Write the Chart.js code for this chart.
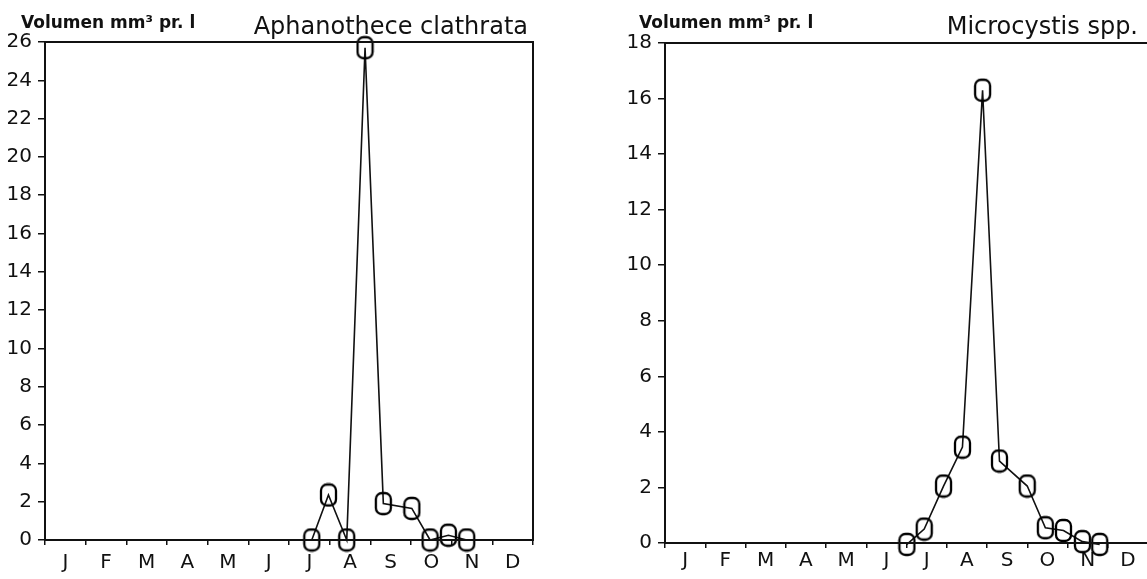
<!DOCTYPE html>
<html>
<head>
<meta charset="utf-8">
<script src="https://cdn.jsdelivr.net/npm/chart.js@4"></script>
<style>
  html, body { margin:0; padding:0; background:#fff; width:1147px; height:579px; overflow:hidden; }
  .box { position:absolute; top:0; height:579px; }
  .lbl { position:absolute; font-family:"DejaVu Sans", sans-serif; color:#111; white-space:nowrap; }
  .vol { font-size:17px; font-weight:bold; line-height:17px; top:14px; }
  .ttl { font-size:24px; line-height:24px; top:14px; }
</style>
</head>
<body>
<div class="box" style="left:0;width:573px;"><canvas id="c1"></canvas></div>
<div class="box" style="left:580px;width:580px;"><canvas id="c2"></canvas></div>
<div class="lbl vol" style="left:21px;">Volumen mm³ pr. l</div>
<div class="lbl ttl" style="right:619px;">Aphanothece clathrata</div>
<div class="lbl vol" style="left:639px;">Volumen mm³ pr. l</div>
<div class="lbl ttl" style="right:9px;">Microcystis spp.</div>
<script>
// ---- data ----
const monthLabels = ["J","F","M","A","M","J","J","A","S","O","N","D"];
// time positions in months from 1 January (0 = start of Jan, 12 = end of Dec)
const aphanoTime   = [6.56, 6.97, 7.42, 7.87, 8.32, 9.02, 9.47, 9.92, 10.37];
const aphanoVolume = [0, 2.35, 0, 25.7, 1.9, 1.65, 0, 0.25, 0];
const microTime    = [6.01, 6.44, 6.92, 7.39, 7.89, 8.31, 9.0, 9.45, 9.9, 10.37, 10.8];
const microVolume  = [-0.05, 0.5, 2.05, 3.45, 16.3, 2.95, 2.05, 0.55, 0.45, 0.05, -0.05];
const aphanoYTicks = [0,2,4,6,8,10,12,14,16,18,20,22,24,26];
const microYTicks  = [0,2,4,6,8,10,12,14,16,18];

// marker: rounded rectangle outline (like a plotted "0")
function makeMarker() {
  const c = document.createElement('canvas');
  c.width = 19; c.height = 25;
  const g = c.getContext('2d');
  g.strokeStyle = '#000'; g.lineWidth = 2.3;
  g.beginPath();
  g.roundRect(2, 2, 15, 21, 6);
  g.stroke();
  return c;
}
const marker = makeMarker();

const frame = {
  id: 'frame',
  afterDraw(chart) {
    const a = chart.chartArea, ctx = chart.ctx;
    ctx.save();
    ctx.strokeStyle = '#111'; ctx.lineWidth = 2;
    ctx.strokeRect(a.left, a.top, a.right - a.left, a.bottom - a.top);
    ctx.restore();
  }
};

function build(canvasId, times, values, yTicks, geo) {
  const pts = times.map((t, i) => ({x: t, y: values[i]}));
  return new Chart(document.getElementById(canvasId), {
    type: 'line',
    data: { datasets: [{
      data: pts, xAxisID: 'xv', yAxisID: 'y',
      borderColor: '#111', borderWidth: 1.6, tension: 0,
      pointStyle: marker, pointRadius: 9, pointHoverRadius: 9,
      clip: false
    }]},
    options: {
      responsive: true, maintainAspectRatio: false, animation: false,
      events: [],
      layout: { padding: { top: geo.top, right: geo.right, left: 0, bottom: 0 } },
      plugins: { legend: { display: false }, tooltip: { enabled: false } },
      scales: {
        xv: { type: 'linear', display: false, min: 0, max: 12 },
        x: {
          type: 'category', labels: monthLabels, position: 'bottom', offset: true,
          grid: { offset: true, drawOnChartArea: false, drawTicks: true, tickLength: 5, color: '#111', lineWidth: 1.5 },
          border: { display: true, color: '#111', width: 2 },
          ticks: { color: '#111', font: { family: 'DejaVu Sans', size: 20 }, padding: geo.xpad, maxRotation: 0, autoSkip: false },
          afterFit: s => { s.height = geo.xh; }
        },
        y: {
          type: 'linear', position: 'left', min: yTicks[0], max: yTicks[yTicks.length - 1],
          afterBuildTicks: s => { s.ticks = yTicks.map(v => ({value: v})); },
          grid: { drawOnChartArea: false, drawTicks: true, tickLength: 7, color: '#111', lineWidth: 1.5 },
          border: { display: true, color: '#111', width: 2 },
          ticks: { color: '#111', font: { family: 'DejaVu Sans', size: 20 }, padding: 6 },
          afterFit: s => { s.width = geo.yw; }
        }
      }
    },
    plugins: [frame]
  });
}

build('c1', aphanoTime, aphanoVolume, aphanoYTicks, { top: 42, right: 40, xh: 39, yw: 45, xpad: 6 });
build('c2', microTime, microVolume, microYTicks, { top: 43, right: 12, xh: 36, yw: 85, xpad: 1 });
</script>
</body>
</html>
